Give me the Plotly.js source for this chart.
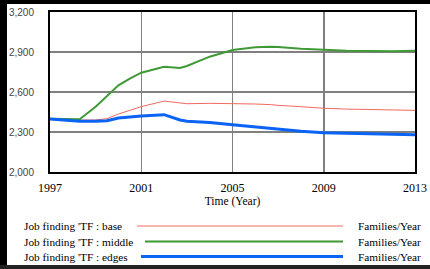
<!DOCTYPE html>
<html><head><meta charset="utf-8">
<script src="https://cdn.plot.ly/plotly-3.0.1.min.js"></script>
<style>
body{margin:0;background:#fff;width:430px;height:269px;overflow:hidden;position:relative}
#bl{position:absolute;left:0;top:0;width:7px;height:269px;background:#000}
#bt{position:absolute;left:0;top:0;width:430px;height:4px;background:#000}
#bb{position:absolute;left:0;top:265px;width:430px;height:4px;background:#222}
#plot{position:absolute;left:0;top:0}
</style></head><body>
<div id="bl"></div><div id="bt"></div><div id="bb"></div>
<div id="plot"></div>
<script>
const time = [1997, 1998, 1998.3, 1999, 1999.5, 2000, 2000.5, 2001, 2002, 2002.7, 2003, 2004, 2005, 2006, 2006.7, 2007, 2008, 2009, 2010, 2011, 2012, 2013];
const base = [2400, 2392, 2390, 2390, 2400, 2435, 2462, 2490, 2532, 2515, 2512, 2515, 2515, 2510, 2505, 2500, 2490, 2478, 2472, 2468, 2465, 2462];
const middle = [2400, 2395, 2395, 2490, 2570, 2650, 2700, 2745, 2790, 2780, 2795, 2865, 2915, 2935, 2940, 2938, 2925, 2915, 2910, 2908, 2905, 2910];
const edges = [2397, 2385, 2380, 2380, 2385, 2405, 2415, 2420, 2430, 2390, 2380, 2372, 2355, 2338, 2328, 2322, 2305, 2295, 2290, 2287, 2283, 2280];
const seriesNames = ["Job finding 'TF : base", "Job finding 'TF : middle", "Job finding 'TF : edges"];
const unitLabel = "Families/Year";
const xTicks = [1997, 2001, 2005, 2009, 2013];
const yTicks = [2000, 2300, 2600, 2900, 3200];
const yTickText = ["2,000", "2,300", "2,600", "2,900", "3,200"];
const colors = ["#f06a60", "#3f9a35", "#0a63f5"];
const widths = [1, 2, 3];

const W = 430, H = 269, L = 50, R = 15, T = 12, B = 97;
const pw = W - L - R, ph = H - T - B;
const px = x => (x - L) / pw;
const py = y => (H - B - y) / ph;

const data = [base, middle, edges].map((s, i) => ({
  x: time, y: s, type: 'scatter', mode: 'lines', name: seriesNames[i],
  line: {color: colors[i], width: widths[i]}, showlegend: false
}));

const serif = {family: 'Liberation Serif', size: 11.3, color: '#000'};
const rows = [226, 241.5, 256.5];
const lineStart = [137, 145, 141];
const annotations = [], shapes = [];
rows.forEach((r, i) => {
  annotations.push({xref: 'paper', yref: 'paper', x: px(22), y: py(r), xanchor: 'left', yanchor: 'middle',
    text: seriesNames[i], showarrow: false, font: serif});
  annotations.push({xref: 'paper', yref: 'paper', x: px(356), y: py(r), xanchor: 'left', yanchor: 'middle',
    text: unitLabel, showarrow: false, font: serif});
  shapes.push({type: 'line', xref: 'paper', yref: 'paper', x0: px(lineStart[i]), x1: px(343), y0: py(r), y1: py(r),
    line: {color: colors[i], width: widths[i]}});
});

const layout = {
  width: W, height: H,
  margin: {l: L, r: R, t: T, b: B, pad: 0},
  paper_bgcolor: 'rgba(0,0,0,0)', plot_bgcolor: '#fff',
  xaxis: {range: [1997, 2013], tickvals: xTicks, ticktext: xTicks.map(String),
    showgrid: true, gridcolor: '#808080', gridwidth: 1.5, zeroline: false,
    showline: true, linecolor: '#000', linewidth: 2, mirror: true,
    ticks: 'outside', ticklen: 4, tickcolor: 'rgba(0,0,0,0)',
    tickfont: {family: 'Liberation Serif', size: 12, color: '#000'},
    title: {text: 'Time (Year)', font: {family: 'Liberation Serif', size: 11.5, color: '#000'}, standoff: 1}},
  yaxis: {range: [2000, 3200], tickvals: yTicks, ticktext: yTickText,
    showgrid: true, gridcolor: '#808080', gridwidth: 1.5, zeroline: false,
    showline: true, linecolor: '#000', linewidth: 2, mirror: true,
    ticks: 'outside', ticklen: 12, tickcolor: 'rgba(0,0,0,0)',
    tickfont: {family: 'Liberation Sans', size: 10, color: '#444'}},
  annotations: annotations, shapes: shapes, showlegend: false
};
Plotly.newPlot('plot', data, layout, {staticPlot: true, displayModeBar: false});
</script>
</body></html>
